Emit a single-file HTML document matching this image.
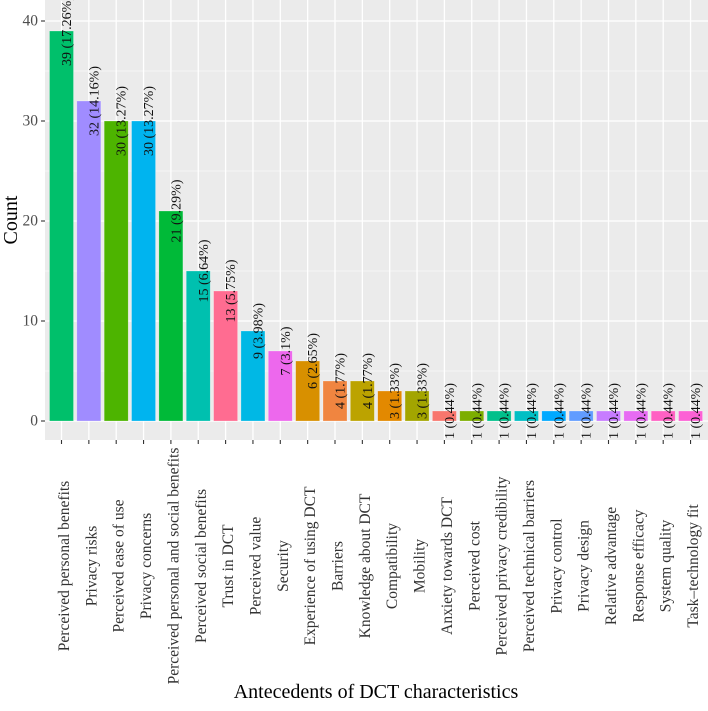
<!DOCTYPE html>
<html><head><meta charset="utf-8"><style>
html,body{margin:0;padding:0;background:#fff;}
svg text{font-family:"Liberation Serif",serif;}
</style></head><body>
<svg id="chart" width="708" height="706" xmlns="http://www.w3.org/2000/svg">
<rect x="45" y="0" width="663" height="440" fill="#ebebeb"/>
<g id="grid"></g>
<g id="bars"></g>
<g id="labels"></g>
<g id="axes"></g>
<text transform="translate(17,220) rotate(-90)" text-anchor="middle" font-size="20">Count</text>
<text x="376" y="698" text-anchor="middle" font-size="20">Antecedents of DCT characteristics</text>
</svg>
<script>
const categories = ["Perceived personal benefits","Privacy risks","Perceived ease of use","Privacy concerns","Perceived personal and social benefits","Perceived social benefits","Trust in DCT","Perceived value","Security","Experience of using DCT","Barriers","Knowledge about DCT","Compatibility","Mobility","Anxiety towards DCT","Perceived cost","Perceived privacy credibility","Perceived technical barriers","Privacy control","Privacy design","Relative advantage","Response efficacy","System quality","Task\u2013technology fit"];
const counts = [39,32,30,30,21,15,13,9,7,6,4,4,3,3,1,1,1,1,1,1,1,1,1,1];
const percents = ["17.26","14.16","13.27","13.27","9.29","6.64","5.75","3.98","3.1","2.65","1.77","1.77","1.33","1.33","0.44","0.44","0.44","0.44","0.44","0.44","0.44","0.44","0.44","0.44"];
const colors = ["#00c06b","#a08cff","#4db400","#00b4ef","#00ba38","#00c0af","#ff6c91","#00b8e5","#ed68ed","#d89000","#f08540","#bca300","#e38900","#a3a500","#f8766d","#7cae00","#00c08b","#00bfc4","#00a9ff","#619cff","#c77cff","#e76bf3","#ff61c3","#fc61d5"];
const yTicks = [0,10,20,30,40];

const NS="http://www.w3.org/2000/svg";
const x0=61.5, step=27.35, bw=24;
const xPos = i => x0 + i*step;
const yPos = v => 421 - v*10;
function mk(tag, attrs, parent){const e=document.createElementNS(NS,tag);for(const k in attrs)e.setAttribute(k,attrs[k]);parent.appendChild(e);return e;}
const grid=document.getElementById('grid'), bars=document.getElementById('bars'), labels=document.getElementById('labels'), axes=document.getElementById('axes');
for(let v=-5; v<=45; v+=5){
  const y=yPos(v); if(y<0||y>440) continue;
  const l=mk('line',{x1:45,x2:708,y1:y,y2:y,stroke:'#fff','stroke-width':v%10===0?1.3:0.6},grid);
  
  
}
categories.forEach((c,i)=>{
  const x=xPos(i);
  const g=mk('line',{x1:x,x2:x,y1:0,y2:440,stroke:'#fff','stroke-width':1.3},grid);
  
  
  const r=mk('rect',{x:x-bw/2,y:yPos(counts[i]),width:bw,height:yPos(0)-yPos(counts[i]),fill:colors[i],stroke:'#ffffff','stroke-opacity':0.4,'stroke-width':0.6},bars);
  
  
  const t=mk('text',{transform:`translate(${x+6},${yPos(counts[i])}) rotate(-90)`,'text-anchor':'middle','dominant-baseline':'central','font-size':14,fill:'#111'},labels);
  t.textContent=counts[i]+' ('+percents[i]+'%)';
  
  
  const tk=mk('line',{x1:x,x2:x,y1:440,y2:444,stroke:'#333','stroke-width':1.1},axes);
  
  
  const tl=mk('text',{transform:`translate(${x+3},566) rotate(-90)`,'text-anchor':'middle','dominant-baseline':'central','font-size':15.5,fill:'#333'},axes);
  tl.textContent=c;
  
  
});
yTicks.forEach(v=>{
  const y=yPos(v);
  const tk=mk('line',{x1:41,x2:45,y1:y,y2:y,stroke:'#333','stroke-width':1.1},axes);
  
  
  const t=mk('text',{x:38,y:y,'text-anchor':'end','dominant-baseline':'central','font-size':15.5,fill:'#4d4d4d'},axes);
  t.textContent=v;
  
  
});
</script>
</body></html>
